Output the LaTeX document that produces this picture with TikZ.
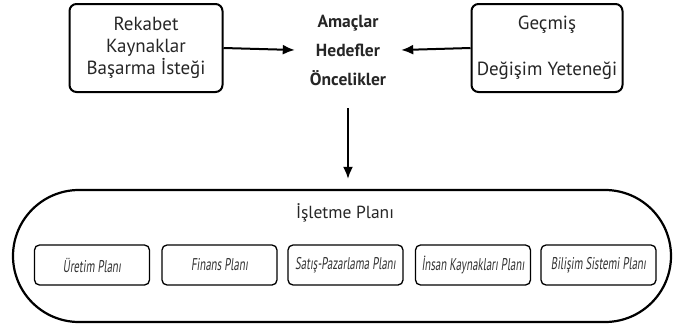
\documentclass[tikz,border=0pt]{standalone}
\usepackage{fontspec}
\setmainfont{PT Sans}
\newfontfamily\headfont{PT Sans}
\newfontfamily\planfont[FakeStretch=0.64,FakeSlant=0.12]{PT Sans}
\usepackage{tikz}
\usetikzlibrary{arrows.meta,positioning}

\begin{document}
\begin{tikzpicture}[x=1pt, y=-1pt,
    bigbox/.style={draw, line width=2pt, rounded corners=7pt, align=center,
      minimum width=153pt, minimum height=88pt, text=black!85,
      font=\fontsize{19}{22}\selectfont},
    subplan/.style={draw, line width=1.3pt, rounded corners=5pt, text=black!80,
      minimum width=115pt, minimum height=40pt, inner sep=0pt,
      font=\planfont\fontsize{17}{18}\selectfont},
    flow/.style={line width=2pt, -{Latex[length=12pt,width=10pt]}}]
  \useasboundingbox (0,0) rectangle (673,327);

  \node[bigbox] at (146, 48) (rekabet) {Rekabet\\Kaynaklar\\Başarma İsteği};
  \node[bigbox, minimum width=151pt] at (547, 48) (gecmis) {Geçmiş\\[24pt]Değişim Yeteneği};
  \node[align=center, minimum width=106pt, minimum height=116pt, text=black!85,
    font=\headfont\bfseries\fontsize{17.5}{29}\selectfont] at (348, 50) (hedef)
    {Amaçlar\\Hedefler\\Öncelikler};

  \node[draw, line width=2.2pt, rounded corners=66pt, minimum width=658pt,
    minimum height=132pt] at (342, 256) (isletme) {};
  \node[font=\fontsize{17.5}{22}\selectfont, text=black!85] at (345, 213) (isletmeyazi) {İşletme Planı};

  \node[subplan] at (92, 265) (uretim) {Üretim Planı};
  \node[subplan] at (219.5, 265) (finans) {Finans Planı};
  \node[subplan] at (345.5, 265) (satis) {Satış-Pazarlama Planı};
  \node[subplan] at (473, 265) (insan) {İnsan Kaynakları Planı};
  \node[subplan] at (598.5, 265) (bilisim) {Bilişim Sistemi Planı};

  \draw[flow] (rekabet.east) -- (hedef.west);
  \draw[flow] (gecmis.west) -- (hedef.east);
  \draw[flow, shorten >=10pt] (hedef.south) -- (hedef.south |- isletme.north);
\end{tikzpicture}
\end{document}
